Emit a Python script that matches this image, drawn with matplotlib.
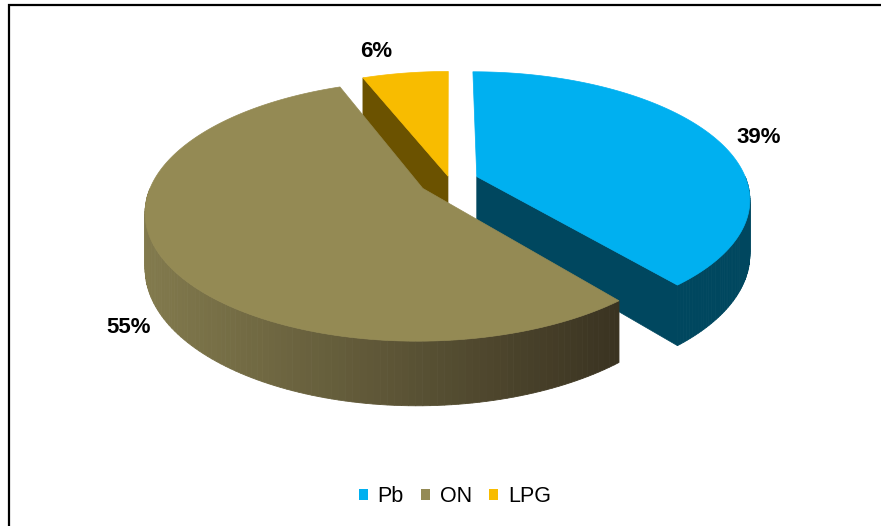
import matplotlib
matplotlib.use('Agg')
import matplotlib.pyplot as plt
from matplotlib.patches import Polygon, Patch
import numpy as np

# data
labels = ['Pb', 'ON', 'LPG']
values = [39, 55, 6]
pct_text = ['39%', '55%', '6%']
explode = [0.106, 0.116, 0.04]

top_colors = ['#00b0f0', '#948a54', '#f8bc00']
side_light = ['#00475f', '#827a4d', '#6b5200']
side_dark = ['#00475f', '#3a3321', '#6b5200']

# label placement (radius, angle shift, drop)
label_r = [1.2, 1.12, 1.27]
label_da = [0, 0, 4]
label_z = [0.15, 1, 0]

W, H = 881, 526
cx, cy = 450, 181     # pie centre on screen (px)
A, B = 270, 124       # ellipse radii
k = 0.17              # perspective
depth = 53            # thickness (px)

plt.rcParams['font.family'] = ['Liberation Sans', 'DejaVu Sans']

fig = plt.figure(figsize=(W / 100, H / 100), dpi=100)
ax = fig.add_axes([0, 0, 1, 1])
ax.set_xlim(0, W)
ax.set_ylim(H, 0)
ax.axis('off')


def proj(u, v, z=0.0):
    s = 1.0 / (1.0 + k * v)
    return cx + A * u * s, cy - B * v * s + depth * z * s


def mix(c1, c2, t):
    a = np.array(matplotlib.colors.to_rgb(c1))
    b = np.array(matplotlib.colors.to_rgb(c2))
    return tuple(a + (b - a) * t)


frac = np.array(values) / sum(values)
ends = 90 - 360 * np.cumsum(frac)
starts = np.r_[90, ends[:-1]]
mids = (starts + ends) / 2

order = np.argsort(-np.sin(np.radians(mids)))

# side faces, back to front
for i in order:
    m = np.radians(mids[i])
    ou, ov = explode[i] * np.cos(m), explode[i] * np.sin(m)
    for edge, nrm in ((starts[i], starts[i] + 90), (ends[i], ends[i] - 90)):
        if np.sin(np.radians(nrm)) < -1e-6:
            e = np.radians(edge)
            eu, ev = ou + np.cos(e), ov + np.sin(e)
            pts = [proj(ou, ov), proj(eu, ev), proj(eu, ev, 1), proj(ou, ov, 1)]
            ax.add_patch(Polygon(pts, closed=True, fc=side_light[i],
                                 ec=side_light[i], lw=0.5))
    th = np.radians(np.linspace(starts[i], ends[i], 160))
    xs_all = [proj(ou + np.cos(t), ov + np.sin(t))[0] for t in th]
    xmin, xmax = min(xs_all), max(xs_all)
    for t0, t1 in zip(th[:-1], th[1:]):
        if np.sin((t0 + t1) / 2) >= 0:
            continue
        p0 = (ou + np.cos(t0), ov + np.sin(t0))
        p1 = (ou + np.cos(t1), ov + np.sin(t1))
        pts = [proj(*p0), proj(*p1), proj(*p1, 1), proj(*p0, 1)]
        xm = (pts[0][0] + pts[1][0]) / 2
        tt = (xm - xmin) / max(xmax - xmin, 1)
        c = mix(side_light[i], side_dark[i], tt)
        ax.add_patch(Polygon(pts, closed=True, fc=c, ec=c, lw=0.6))

# top faces
for i in order:
    m = np.radians(mids[i])
    ou, ov = explode[i] * np.cos(m), explode[i] * np.sin(m)
    th = np.radians(np.linspace(starts[i], ends[i], 200))
    pts = [proj(ou, ov)] + [proj(ou + np.cos(t), ov + np.sin(t)) for t in th]
    ax.add_patch(Polygon(pts, closed=True, fc=top_colors[i],
                         ec=top_colors[i], lw=0.5))

# percentage labels
for i in range(len(values)):
    m = np.radians(mids[i])
    ou, ov = explode[i] * np.cos(m), explode[i] * np.sin(m)
    ml = np.radians(mids[i] + label_da[i])
    u, v = ou + label_r[i] * np.cos(ml), ov + label_r[i] * np.sin(ml)
    x, y = proj(u, v, label_z[i])
    ax.text(x, y, pct_text[i], ha='center', va='center',
            fontsize=16, fontweight='bold', color='black')

# chart border: only top and left edges are inside the crop
ax.plot([W + 20, 9, 9], [5, 5, H + 20], color='black', lw=1.6,
        solid_joinstyle='miter')

handles = [Patch(fc=c, ec='none') for c in top_colors]
fig.legend(handles, labels, loc='center', bbox_to_anchor=(455 / W, 1 - 497 / H),
           ncol=3, frameon=False, fontsize=15.5, handlelength=0.42,
           handleheight=0.42, handletextpad=0.45, columnspacing=0.8)

fig.savefig('out.png', dpi=100)
